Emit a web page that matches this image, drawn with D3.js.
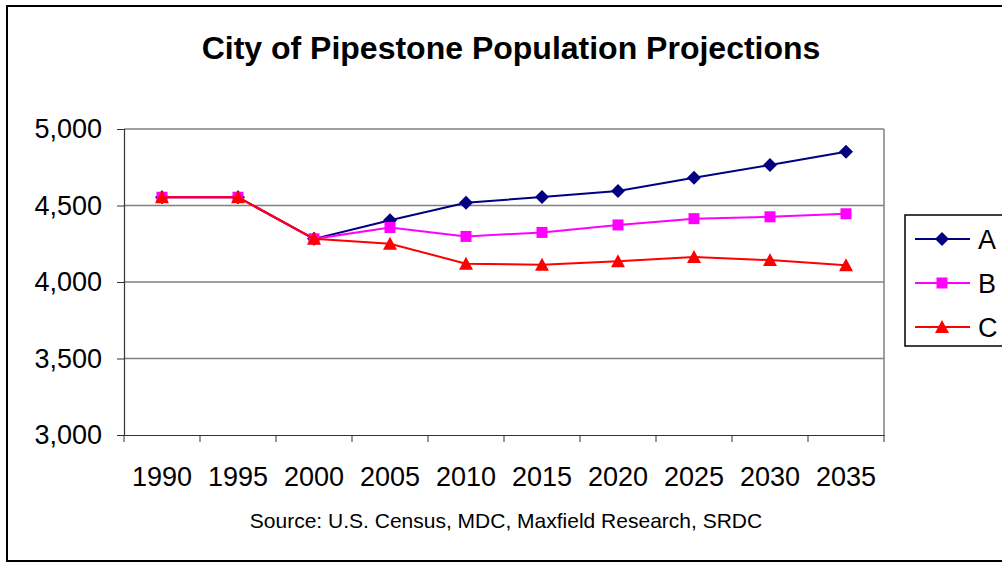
<!DOCTYPE html>
<html><head><meta charset="utf-8">
<script src="https://cdn.jsdelivr.net/npm/d3@7"></script>
<style>body{margin:0;background:#fff}svg{display:block}text{font-family:"Liberation Sans",Arial,sans-serif}</style>
</head><body><svg id="c" width="1002" height="565"></svg>
<script>
const years = ["1990","1995","2000","2005","2010","2015","2020","2025","2030","2035"];
const seriesA = [4554,4554,4282,4403,4518,4555,4595,4682,4764,4852];
const seriesB = [4554,4554,4282,4356,4298,4324,4373,4414,4426,4446];
const seriesC = [4554,4554,4282,4250,4120,4113,4135,4163,4143,4110];
const yTicks = [3000,3500,4000,4500,5000];
const seriesNames = ["A","B","C"];
const colors = ["#000080","#FF00FF","#FF0000"];
const title = "City of Pipestone Population Projections";
const source = "Source: U.S. Census, MDC, Maxfield Research, SRDC";

const svg = d3.select("#c");
const L=124,R=884,T=129,B=435;
const x = d3.scaleBand().domain(years).range([L,R]).padding(0);
const y = d3.scaleLinear().domain([3000,5000]).range([B,T]);

// outer frame
svg.append("rect").attr("x",7).attr("y",6).attr("width",1010).attr("height",555)
  .attr("fill","#fff").attr("stroke","#000").attr("stroke-width",2);

svg.append("text").attr("x",511).attr("y",59).attr("text-anchor","middle")
  .attr("font-size",32).attr("font-weight","bold").text(title);

// grid
svg.append("g").selectAll("line").data(yTicks.filter(d=>d>3000)).join("line")
  .attr("x1",L).attr("x2",R).attr("y1",d=>y(d)).attr("y2",d=>y(d))
  .attr("stroke","#808080").attr("stroke-width",1.5);
svg.append("line").attr("x1",R).attr("x2",R).attr("y1",T).attr("y2",B)
  .attr("stroke","#808080").attr("stroke-width",1.5);

// axes
const yAxis = svg.append("g").attr("transform",`translate(${L},0)`)
  .call(d3.axisLeft(y).tickValues(yTicks).tickSize(7).tickPadding(15).tickFormat(d3.format(",")));
const xAxis = svg.append("g").attr("transform",`translate(0,${B})`)
  .call(d3.axisBottom(x).tickSize(0).tickPadding(0).tickFormat(""));
// band-boundary ticks
const bounds = years.map(d=>x(d)).concat([R]);
xAxis.selectAll("line.bt").data(bounds).join("line").attr("class","bt")
  .attr("x1",d=>d).attr("x2",d=>d).attr("y1",0).attr("y2",7).attr("stroke","#333");
xAxis.selectAll("text.lbl").data(years).join("text").attr("class","lbl")
  .attr("x",d=>x(d)+x.bandwidth()/2).attr("y",51).attr("text-anchor","middle")
  .attr("font-size",27).attr("fill","#000").text(d=>d);
[yAxis,xAxis].forEach(g=>{g.selectAll(".domain").attr("stroke","#333").attr("stroke-width",1.2);
  g.selectAll(".tick line").attr("stroke","#333");});
yAxis.selectAll(".tick text").attr("font-size",27).attr("fill","#000")
  .attr("font-family","Liberation Sans, Arial, sans-serif");

svg.append("text").attr("x",506).attr("y",528).attr("text-anchor","middle")
  .attr("font-size",21).text(source);

// markers
function marker(g,i,cx,cy){
  if(i===0){g.append("path").attr("d",`M${cx},${cy-7}L${cx+7},${cy}L${cx},${cy+7}L${cx-7},${cy}Z`).attr("fill",colors[0]);}
  else if(i===1){g.append("rect").attr("x",cx-5.5).attr("y",cy-5.5).attr("width",11).attr("height",11).attr("fill",colors[1]);}
  else {g.append("path").attr("d",`M${cx},${cy-7}L${cx+7},${cy+6}L${cx-7},${cy+6}Z`).attr("fill",colors[2]);}
}
const data=[seriesA,seriesB,seriesC];
const line=d3.line().x((d,i)=>x(years[i])+x.bandwidth()/2).y(d=>y(d));
data.forEach((s,i)=>{
  const g=svg.append("g");
  g.append("path").datum(s).attr("d",line).attr("fill","none").attr("stroke",colors[i]).attr("stroke-width",2);
  s.forEach((v,j)=>marker(g,i,x(years[j])+x.bandwidth()/2,y(v)));
});

// legend
const lg=svg.append("g");
lg.append("rect").attr("x",905).attr("y",215).attr("width",110).attr("height",131)
  .attr("fill","#fff").attr("stroke","#000").attr("stroke-width",1.5);
seriesNames.forEach((n,i)=>{
  const cy=239+i*44;
  lg.append("line").attr("x1",915).attr("x2",970).attr("y1",cy).attr("y2",cy).attr("stroke",colors[i]).attr("stroke-width",2);
  marker(lg,i,942,cy);
  lg.append("text").attr("x",978).attr("y",cy+10).attr("font-size",27).text(n);
});
</script></body></html>
